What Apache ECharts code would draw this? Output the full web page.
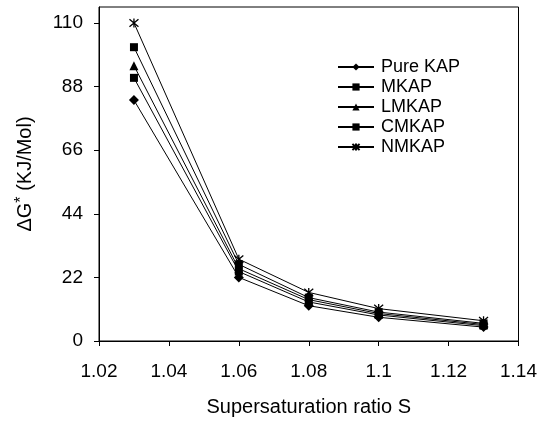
<!DOCTYPE html>
<html>
<head>
<meta charset="utf-8">
<script src="https://cdn.jsdelivr.net/npm/echarts@6/dist/echarts.min.js"></script>
<style>
  html, body { margin: 0; padding: 0; background: #fff; }
  #chart { width: 540px; height: 424px; }
</style>
</head>
<body>
<div id="chart"></div>
<script>
const ratioS = [1.03, 1.06, 1.08, 1.1, 1.13];
const pureKap = [83.3, 22, 12.2, 8.2, 4.8];
const mKap = [101.6, 26.5, 15, 10, 6.1];
const lmKap = [95.2, 25, 14.3, 9.5, 5.7];
const cmKap = [91, 24, 13.5, 9, 5.3];
const nmKap = [110, 28.3, 16.8, 11.2, 7];
const yTicks = [0, 22, 44, 66, 88, 110];

const star = 'path://M0,0L10,10M10,0L0,10M5,-1L5,11';

const pairs = (vals) => ratioS.map((x, i) => [x, vals[i]]);

const mk = (name, vals, symbol, symbolSize) => ({
  name,
  type: 'line',
  data: pairs(vals),
  symbol,
  symbolSize,
  showAllSymbol: true,
  lineStyle: { color: '#000', width: 1 },
  itemStyle: { color: '#000', borderColor: '#000', borderWidth: symbol === star ? 1.3 : 0 },
  emphasis: { disabled: true },
  animation: false
});

const font = 'Liberation Sans, Arial, sans-serif';

echarts.init(document.getElementById('chart')).setOption({
  animation: false,
  grid: {
    left: 99, right: 20, top: 7, bottom: 83,
    show: true, borderColor: '#000', borderWidth: 1
  },
  legend: {
    orient: 'vertical',
    left: 332,
    top: 53,
    itemWidth: 36,
    itemHeight: 9,
    itemGap: 2,
    textStyle: { fontFamily: font, fontSize: 18, color: '#000', padding: [0, 0, 0, 2] },
    data: ['Pure KAP', 'MKAP', 'LMKAP', 'CMKAP', 'NMKAP']
  },
  xAxis: {
    type: 'value',
    min: 1.02, max: 1.14, interval: 0.02,
    name: 'Supersaturation ratio S',
    nameLocation: 'middle',
    nameGap: 56,
    nameTextStyle: { fontFamily: font, fontSize: 20, color: '#000' },
    axisLine: { onZero: false, lineStyle: { color: '#000', width: 1 } },
    axisTick: { show: true, inside: false, length: 5, lineStyle: { color: '#000' } },
    axisLabel: { fontFamily: font, fontSize: 19, color: '#000', margin: 21 },
    splitLine: { show: false }
  },
  yAxis: {
    type: 'value',
    min: 0, max: 115.5,
    name: '{a|ΔG}{s|*}{a| (KJ/Mol)}',
    nameLocation: 'middle',
    nameGap: 63,
    nameTextStyle: {
      fontFamily: font, fontSize: 20, color: '#000',
      rich: {
        a: { fontFamily: font, fontSize: 20, color: '#000' },
        s: { fontFamily: font, fontSize: 16, color: '#000', verticalAlign: 'top', padding: [0, 0, 6, 0] }
      }
    },
    axisLine: { show: true, lineStyle: { color: '#000', width: 1 } },
    axisTick: { show: true, length: 5, customValues: yTicks, lineStyle: { color: '#000' } },
    axisLabel: { fontFamily: font, fontSize: 19, color: '#000', margin: 16, customValues: yTicks },
    splitLine: { show: false }
  },
  series: [
    mk('Pure KAP', pureKap, 'diamond', 10),
    mk('MKAP', mKap, 'rect', 8),
    mk('LMKAP', lmKap, 'triangle', 9),
    mk('CMKAP', cmKap, 'rect', 8),
    mk('NMKAP', nmKap, star, 9)
  ]
});
</script>
</body>
</html>
